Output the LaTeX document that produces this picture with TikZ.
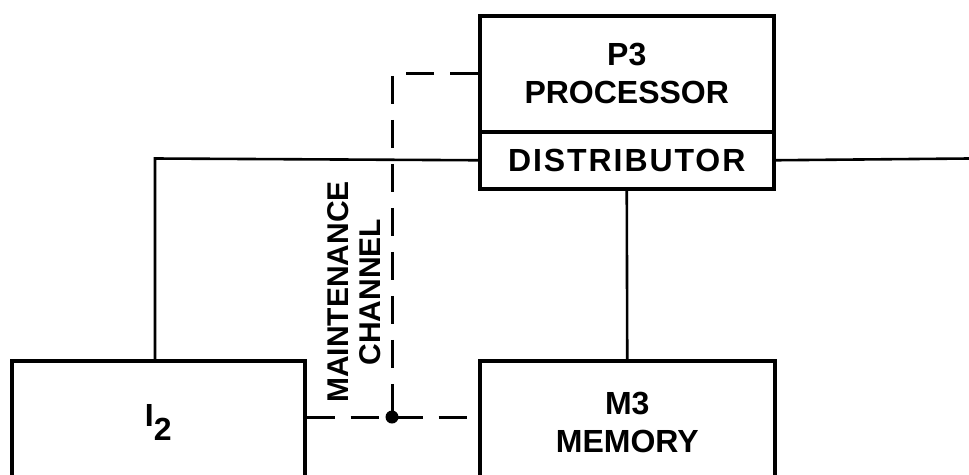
\documentclass[tikz,border=0pt]{standalone}
\usepackage{fontspec}
\setmainfont{Liberation Sans}
\begin{document}
\begin{tikzpicture}[x=1pt,y=-1pt,
  box/.style={draw, line width=3.5pt, inner sep=0pt, anchor=north west, align=center,
    font=\bfseries\fontsize{32}{38}\selectfont},
  wire/.style={line width=2.6pt},
  dashline/.style={line width=3pt, dash pattern=on 28pt off 16pt},
  vlabel/.style={rotate=90, align=center, font=\bfseries\fontsize{30}{32}\selectfont}]
\fill[white] (0,0) rectangle (969,474);
\clip (0,0) rectangle (969,474);
% boxes
\node[box, minimum width=294pt, minimum height=116pt] (proc) at (478,14) {P3\\PROCESSOR};
\node[box, minimum width=294pt, minimum height=57pt] (dist) at (478,130) {\addfontfeature{LetterSpace=6}DISTRIBUTOR};
\node[box, minimum width=293pt, minimum height=124pt] (io) at (10,359) {I\raisebox{-14pt}{2}};
\node[box, minimum width=295pt, minimum height=124pt] (mem) at (478,359) {M3\\MEMORY};
% solid connectors
\coordinate (lcorner) at (155,158.5);
\coordinate (rend) at (969,158.5);
\draw[wire] (dist.west) -- (lcorner) -- (lcorner |- io.north);
\draw[wire] (dist.east) -- (rend);
\draw[wire] (dist.south) -- (mem.north);
% maintenance channel
\coordinate (jn) at (392,417);
\draw[dashline] (proc.west) -| (jn);
\draw[dashline] (io.east |- jn) -- (mem.west |- jn);
\node[circle, fill, inner sep=0pt, minimum size=13pt] (dot) at (jn) {};
\node[vlabel] (maint) at (354,292) {MAINTENANCE\\CHANNEL};
\end{tikzpicture}
\end{document}
